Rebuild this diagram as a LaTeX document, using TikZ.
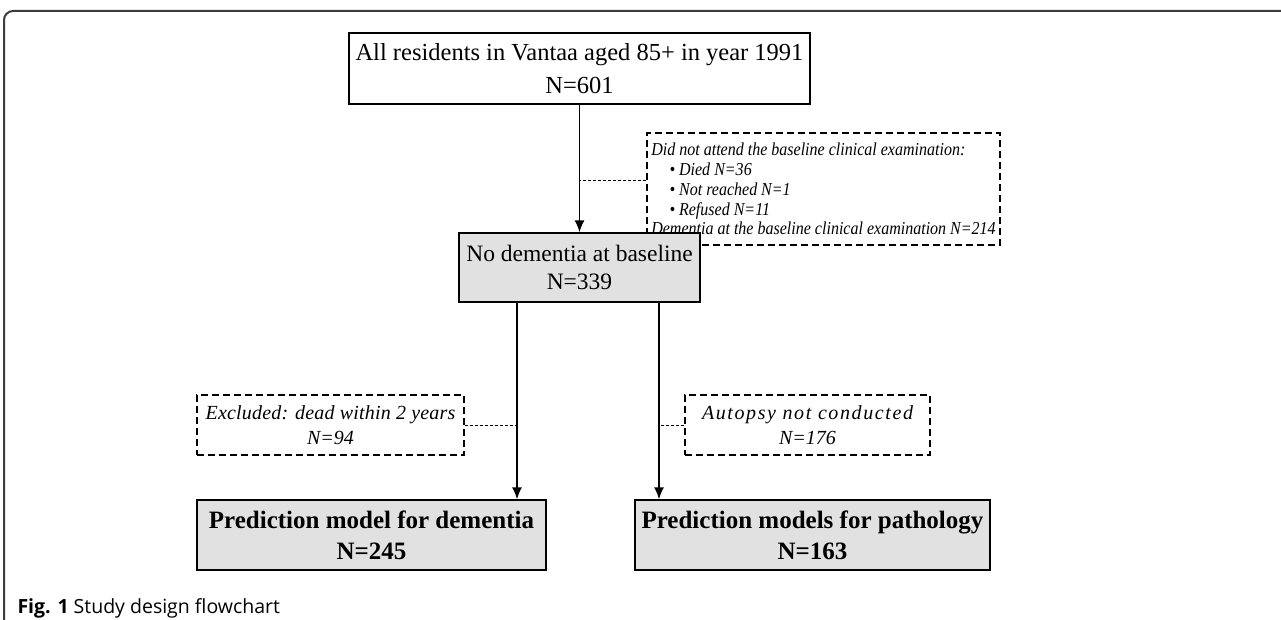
\documentclass[tikz,border=0pt]{standalone}
\usepackage{fontspec}
\setmainfont{Liberation Serif}
\newfontfamily\notefont{Liberation Serif}[FakeStretch=0.88]
\newfontfamily\captionfont{Open Sans}
\usetikzlibrary{arrows.meta}
\definecolor{boxgray}{RGB}{225,225,225}
\definecolor{framegray}{RGB}{60,60,60}

\begin{document}
\begin{tikzpicture}[
  x=1pt, y=1pt,
  font=\fontsize{24.5}{33}\selectfont,
  box/.style={draw, line width=1.3pt, inner sep=0pt, align=center},
  result/.style={box, fill=boxgray},
  outcome/.style={result, font=\fontsize{25}{31}\selectfont\bfseries},
  note/.style={draw, dashed, dash pattern=on 7pt off 4pt, line width=1.2pt, inner sep=0pt,
    font=\fontsize{18.2}{19.8}\notefont\itshape},
  bignote/.style={note, align=center, font=\fontsize{20}{25}\selectfont\itshape},
  flow/.style={-{Latex[length=12pt,width=10pt]}, line width=1.5pt},
  side/.style={dashed, dash pattern=on 3pt off 2pt, line width=0.8pt}]

  \useasboundingbox (0,0) rectangle (1281,-620);

  % Frame round the figure
  \draw[framegray, line width=2pt, rounded corners=9pt] (4,-620) -- (4,-11) -- (1281,-11);

  % Position the nodes at fixed coordinates
  \node[box, minimum width=461pt, minimum height=71pt] (all-residents) at (579.5,-68.5)
    {All residents in Vantaa aged 85+ in year 1991 \\ N=601};
  \node[note, minimum width=353pt, minimum height=112pt, align=left] (not-attended) at (823.5,-189)
    {Did not attend the baseline clinical examination: \\
     \quad\textbullet{} Died N=36 \\
     \quad\textbullet{} Not reached N=1 \\
     \quad\textbullet{} Refused N=11 \\
     Dementia at the baseline clinical examination N=214};
  \node[result, minimum width=241pt, minimum height=69pt, font=\fontsize{23.5}{28}\selectfont]
    (no-dementia) at (579.5,-267.5) {No dementia at baseline \\ N=339};
  \node[bignote, minimum width=267pt, minimum height=60pt] (excluded) at (330.5,-425)
    {\addfontfeature{LetterSpace=1}Excluded: dead within 2 years \\ N=94};
  \node[bignote, minimum width=245pt, minimum height=60pt] (no-autopsy) at (807.5,-425)
    {\addfontfeature{LetterSpace=8}Autopsy not conducted \\ N=176};
  \node[outcome, minimum width=349pt, minimum height=70pt] (model-dementia) at (371.5,-535)
    {Prediction model for dementia \\ N=245};
  \node[outcome, minimum width=355pt, minimum height=70pt] (model-pathology) at (812.5,-535)
    {Prediction models for pathology \\ N=163};

  \coordinate (branch-left) at (517,0);
  \coordinate (branch-right) at (659,0);

  \draw[flow] (all-residents) -- (no-dementia);
  \draw[side] ([yshift=9pt]not-attended.west) -- ([yshift=9pt]not-attended.west -| all-residents.south);
  \draw[flow] (branch-left |- no-dementia.south) -- (branch-left |- model-dementia.north);
  \draw[flow] (branch-right |- no-dementia.south) -- (branch-right |- model-pathology.north);
  \draw[side] (excluded.east) -- (excluded.east -| branch-left);
  \draw[side] (no-autopsy.west) -- (no-autopsy.west -| branch-right);

  \node[anchor=base west, font=\fontsize{19.5}{23}\captionfont] (caption) at (14,-613)
    {\textbf{Fig. 1} Study design flowchart};

\end{tikzpicture}
\end{document}
